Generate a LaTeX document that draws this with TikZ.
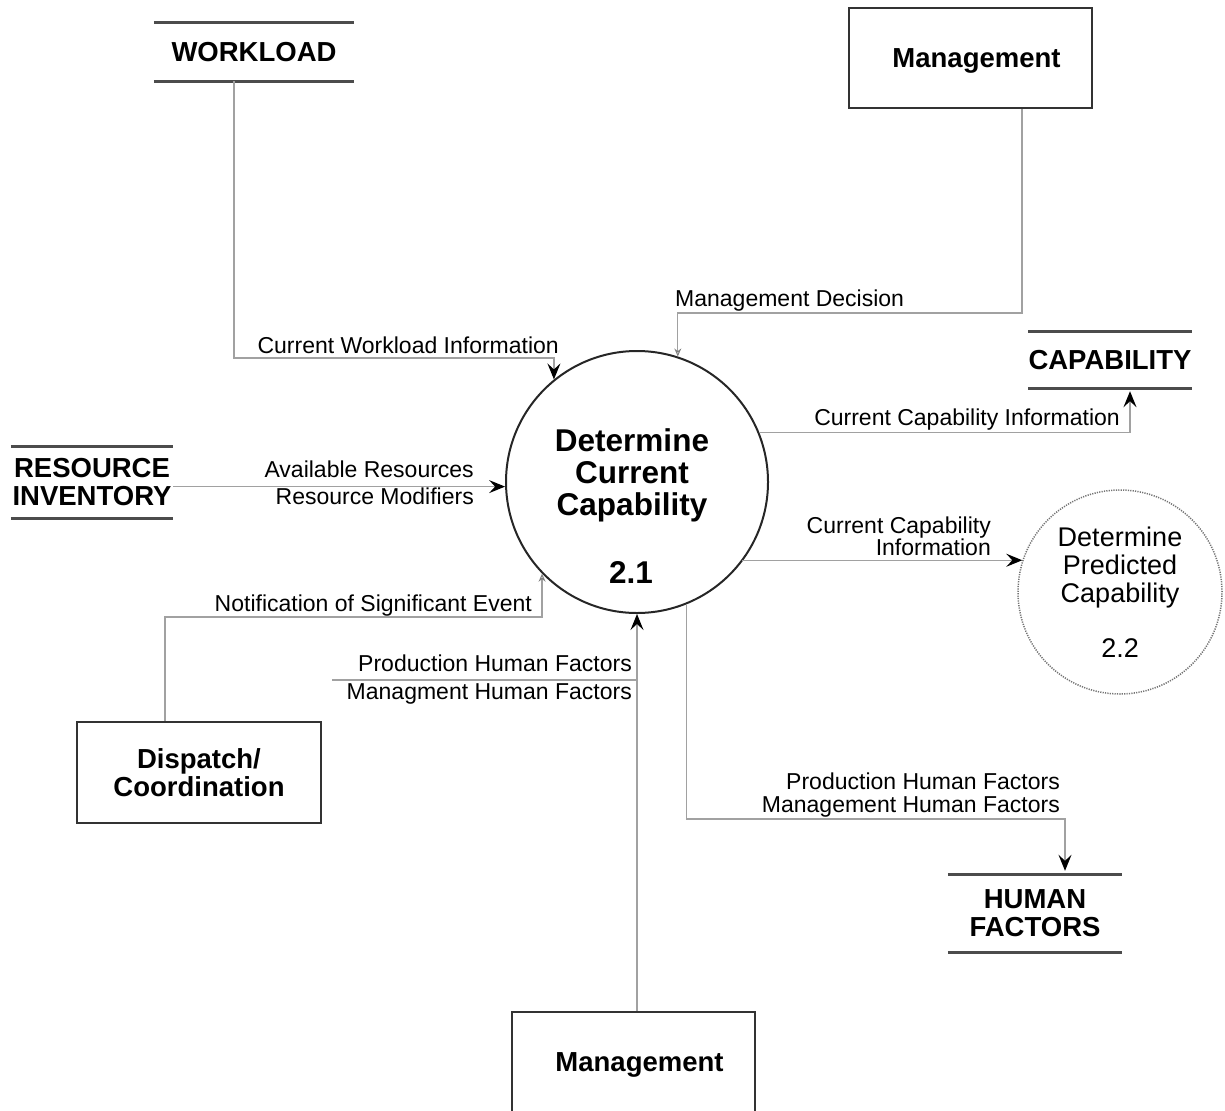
\documentclass[tikz,border=0pt]{standalone}
\usepackage{fontspec}
\setmainfont{Liberation Sans}
\usetikzlibrary{arrows.meta,calc}
\newcommand\dfdtitle{\fontsize{27.5}{28}\selectfont\bfseries}
\newcommand\dfdproc{\fontsize{31.5}{32}\selectfont\bfseries}
\newcommand\dfdplain{\fontsize{27}{28}\selectfont}
\newcommand\dfdlabel{\fontsize{23}{24}\selectfont}
\begin{document}
\begin{tikzpicture}[x=1pt,y=-1pt,
  flow/.style={draw=black!37, line width=1.3pt},
  tip/.style={-{Stealth[length=16pt,width=13pt,inset=6pt,black]}},
  opentip/.style={-{Stealth[open,length=8pt,width=7pt,black!50,line width=1pt]}},
  storenode/.style={inner sep=0pt, font=\dfdtitle, align=center},
  storeline/.style={draw=black!70, line width=3pt},
  entity/.style={draw=black!80, line width=2.2pt, inner sep=0pt, font=\dfdtitle, align=center},
  flowlabel/.style={font=\dfdlabel, inner sep=0pt}
]
\useasboundingbox (0,0) rectangle (1225,1110);

% data stores
\node[storenode, minimum width=200pt, minimum height=58pt] (wl) at (254,52) {WORKLOAD};
\node[storenode, minimum width=143pt, minimum height=56pt] (cap) at (1110,360) {CAPABILITY};
\node[storenode, minimum width=162pt, minimum height=71pt] (ri) at (92,482.5) {RESOURCE\\INVENTORY};
\node[storenode, minimum width=174pt, minimum height=77pt] (hf) at (1035,913.5) {HUMAN\\FACTORS};
\foreach \s in {wl,cap,ri,hf}{
  \draw[storeline] (\s.north west) -- (\s.north east);
  \draw[storeline] (\s.south west) -- (\s.south east);
}

% external entities
\node[entity, text depth=0pt, minimum width=243pt, minimum height=100pt] (mgt) at (970.5,58) {\hspace*{12pt}Management};
\node[entity, minimum width=244pt, minimum height=101pt] (disp) at (199,772.5) {Dispatch/\\Coordination};
\node[entity, text depth=0pt, minimum width=243pt, minimum height=100pt] (mgb) at (633.5,1062) {\hspace*{12pt}Management};

% processes
\node[circle, draw=black!85, line width=2pt, minimum size=262pt, inner sep=0pt] (c21) at (637,482) {};
\node[font=\dfdproc, align=center, inner sep=0pt] (c21t) at (632,475) {Determine\\Current\\Capability};
\node[font=\dfdproc, inner sep=0pt] (c21n) at (631,572) {2.1};

\node[circle, draw=black!55, dash pattern=on 1.2pt off 1.2pt, line width=1.5pt, minimum size=204pt, inner sep=0pt] (c22) at (1120,592) {};
\node[font=\dfdplain, align=center, inner sep=0pt] (c22t) at (1120,568) {Determine\\Predicted\\Capability};
\node[font=\dfdplain, inner sep=0pt] (c22n) at (1120,648) {2.2};

% data flows
\draw[flow, tip] (wl.south -| 234,0) |- (c21.129 |- 0,358) -- (c21.129);
\node[flowlabel, anchor=base east] (lwl) at (559,353) {Current Workload Information};

\draw[flow, opentip] (mgt.south -| 1022,0) |- (c21.72 |- 0,313) -- (c21.72);
\node[flowlabel, anchor=base west] (lmd) at (675,306) {Management Decision};

\draw[flow, tip] (c21.22) -| ($(cap.south -| 1130,0)+(0,3)$);
\node[flowlabel, anchor=base east] (lcc) at (1120,425) {Current Capability Information};

\draw[flow, tip] (ri.east |- c21.182) -- (c21.182);
\node[flowlabel, anchor=base east] (lar) at (474,477) {Available Resources};
\node[flowlabel, anchor=base east] (lrm) at (474,504) {Resource Modifiers};

\draw[flow, tip] (c21.323 |- c22.162) -- (c22.162);
\node[flowlabel, anchor=base east] (lcp1) at (991,533) {Current Capability};
\node[flowlabel, anchor=base east] (lcp2) at (991,555) {Information};

\draw[flow, opentip] (disp.north -| 165,0) |- (c21.224 |- 0,617) -- (c21.224);
\node[flowlabel, anchor=base east] (lne) at (532,611) {Notification of Significant Event};

\draw[flow, tip] (c21.south |- mgb.north) -- (c21.south);
\node[flowlabel, anchor=base east] (lph1) at (632,671) {Production Human Factors};
\node[flowlabel, anchor=base east] (lmh1) at (632,699) {Managment Human Factors};
\coordinate (rule) at (332,680);
\draw[flow] (rule) -- (c21.south |- rule);

\draw[flow, tip] (c21.292) |- (1065,819) -- ($(hf.north -| 1065,0)+(0,-4)$);
\node[flowlabel, anchor=base east] (lph2) at (1060,789) {Production Human Factors};
\node[flowlabel, anchor=base east] (lmh2) at (1060,812) {Management Human Factors};
\end{tikzpicture}
\end{document}
